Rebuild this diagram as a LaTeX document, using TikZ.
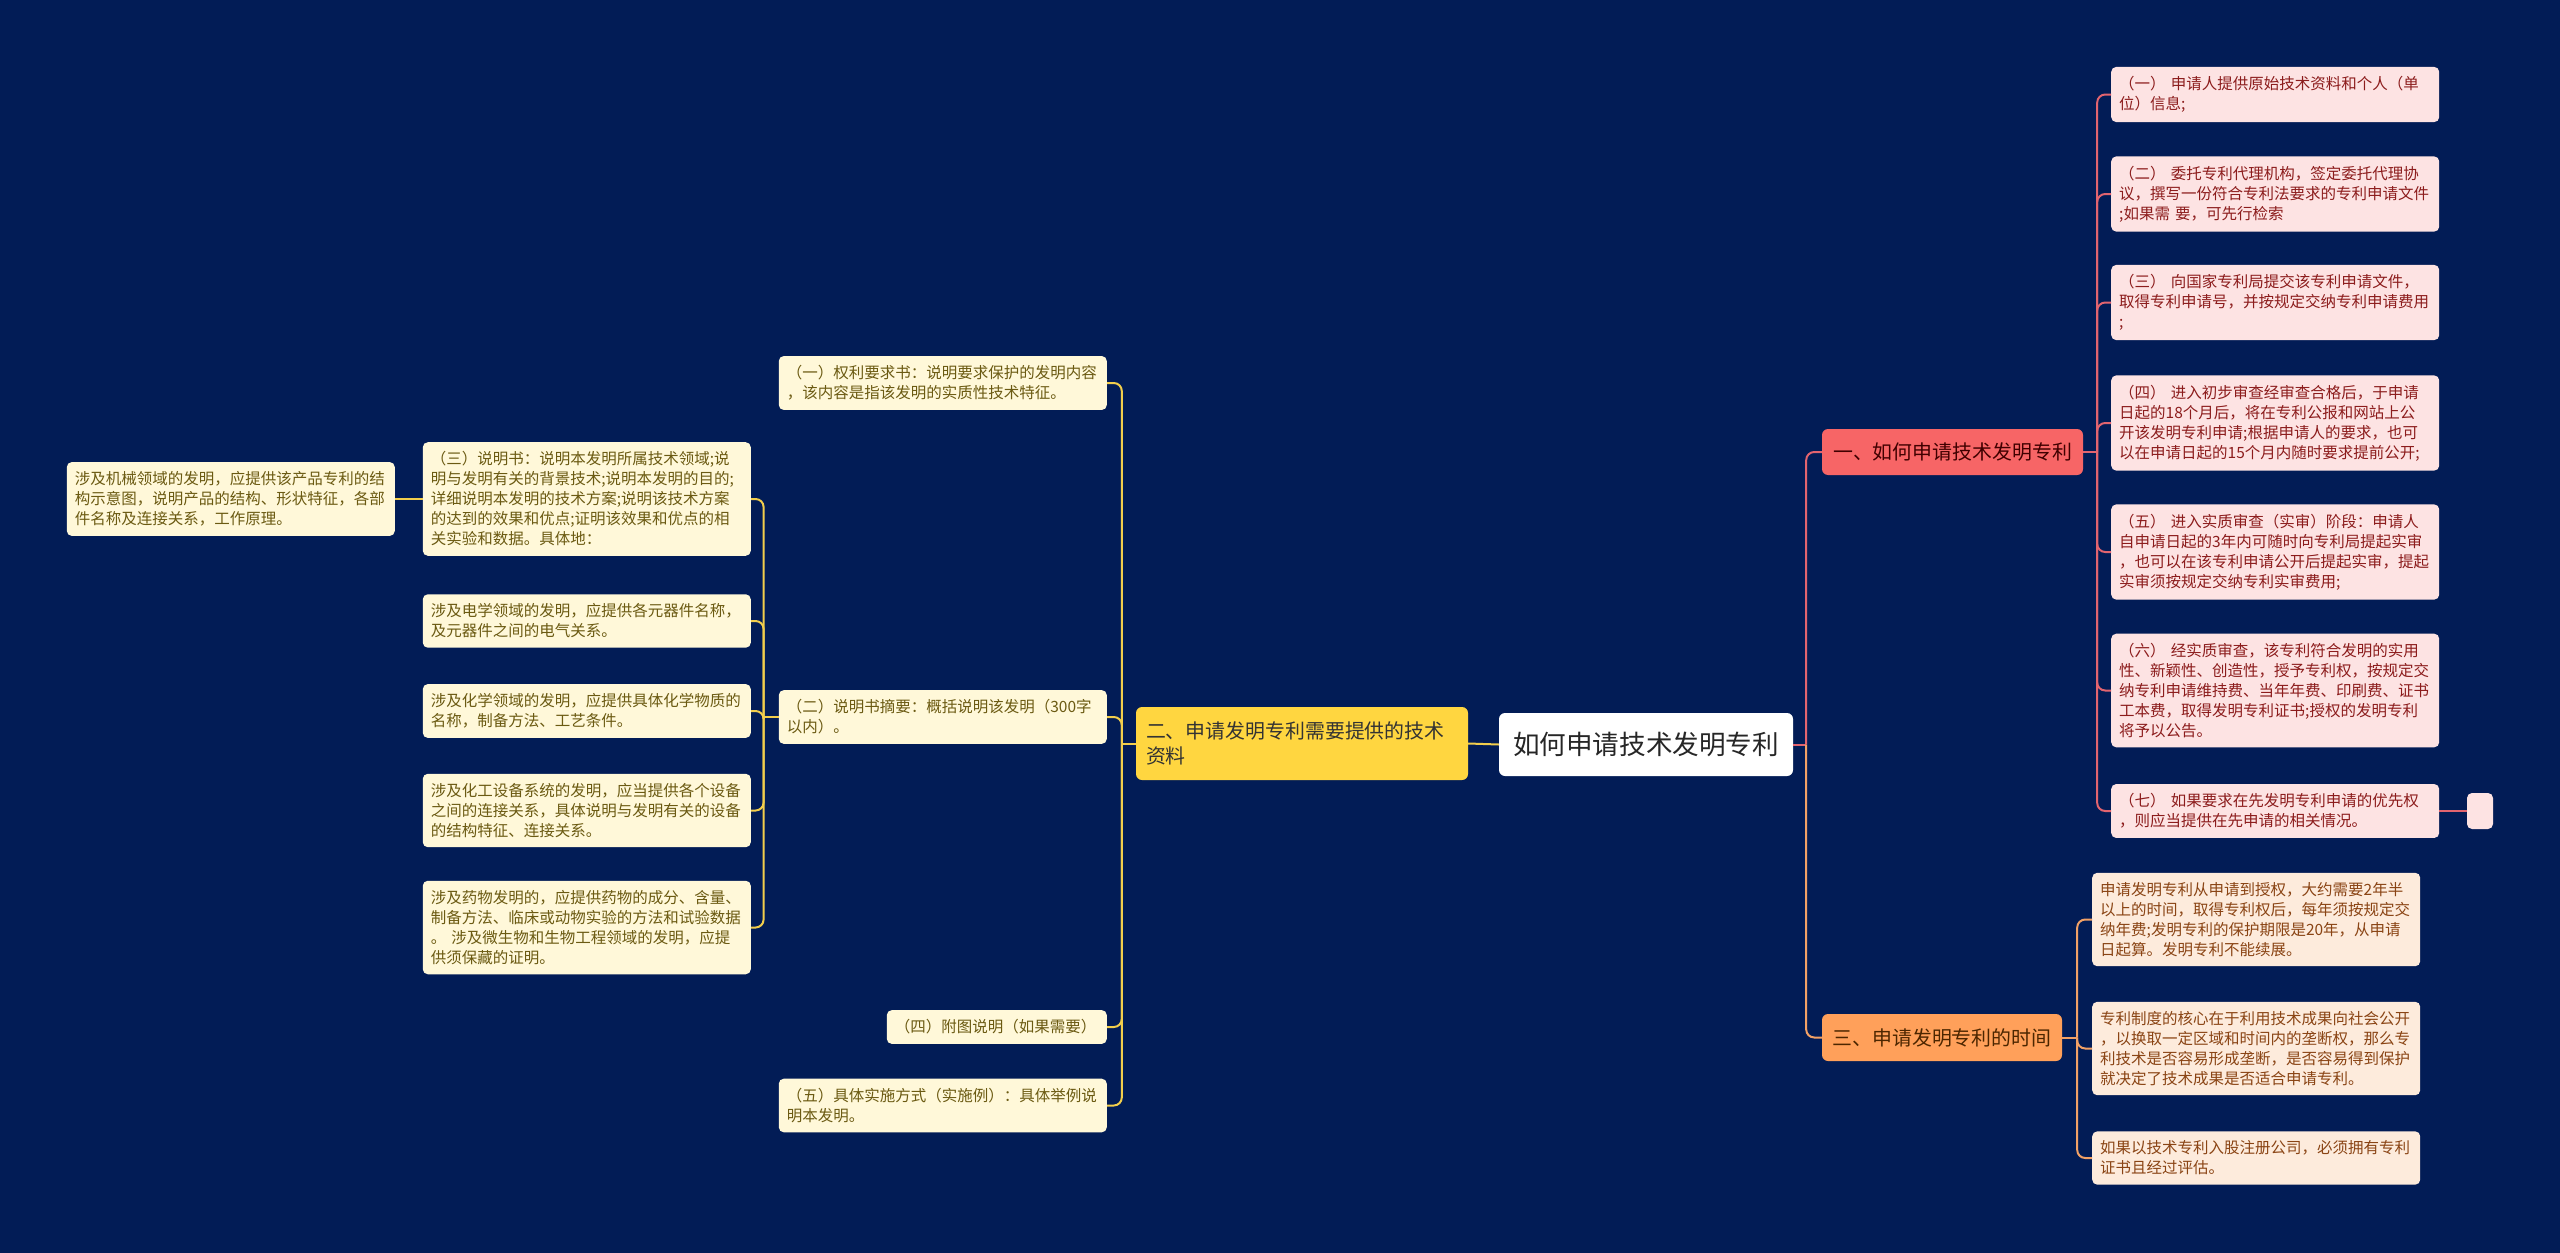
\documentclass[tikz,border=0pt]{standalone}
\usepackage{fontspec}
\setmainfont{Noto Sans CJK SC}
\usepackage{xcolor}
\usetikzlibrary{positioning, calc}

\definecolor{bgnavy}{HTML}{021C56}
\definecolor{creamfill}{HTML}{FFF8D9}
\definecolor{creamink}{HTML}{6B5A12}
\definecolor{yellowfill}{HTML}{FFD640}
\definecolor{yellowline}{HTML}{F2CE4C}
\definecolor{pinkfill}{HTML}{FDE3E3}
\definecolor{pinkink}{HTML}{8C1C1C}
\definecolor{redfill}{HTML}{F76566}
\definecolor{redline}{HTML}{E2646F}
\definecolor{peachfill}{HTML}{FDEBDC}
\definecolor{peachink}{HTML}{8A4414}
\definecolor{orangefill}{HTML}{FFA05A}
\definecolor{orangeline}{HTML}{F2A166}

\newcommand\leaffont{\fontsize{15.5pt}{20pt}\selectfont}
\newcommand\branchfont{\fontsize{19.9pt}{25pt}\selectfont}

\tikzset{
  rootbox/.style={fill=white, text=black!85, rounded corners=6pt,
    font=\fontsize{26.6pt}{32pt}\selectfont, minimum width=294pt, minimum height=63pt},
  branchbox/.style={rounded corners=6pt, font=\branchfont, inner sep=0pt},
  leafbox/.style={rounded corners=5pt, inner xsep=8pt, inner ysep=9.5pt,
    text width=312pt, align=left, font=\leaffont},
  leafY/.style={leafbox, fill=creamfill, text=creamink},
  leafR/.style={leafbox, fill=pinkfill, text=pinkink},
  leafO/.style={leafbox, fill=peachfill, text=peachink},
  linkY/.style={draw=yellowline, line width=2pt, rounded corners=8pt},
  linkR/.style={draw=redline, line width=2pt, rounded corners=8pt},
  linkO/.style={draw=orangeline, line width=2pt, rounded corners=8pt},
}

\begin{document}
\begin{tikzpicture}[x=1pt, y=-1pt]
    % 1. Nền
    \fill[bgnavy] (0,0) rectangle (2560,1253);

    % 2. Gốc và các nhánh chính
    \node[rootbox] (root) at (1646,744.5) {如何申请技术发明专利};
    \node[branchbox, fill=yellowfill, text=black!80, minimum width=332pt, minimum height=73pt,
          text width=312pt, align=left] (n2) at (1302,743.5)
        {二、申请发明专利需要提供的技术\\资料};
    \node[branchbox, fill=redfill, text=black!75!red, minimum width=261pt, minimum height=46pt]
        (n1) at (1952.5,452) {一、如何申请技术发明专利};
    \node[branchbox, fill=orangefill, text=black!70!orange, minimum width=240pt, minimum height=47pt]
        (n3) at (1942,1037.5) {三、申请发明专利的时间};

    % 3. Nhánh trái
    \node[leafY, anchor=east] (a1) at (1107,383)
        {（一）权利要求书：说明要求保护的发明内容\\，该内容是指该发明的实质性技术特征。};
    \node[leafY, anchor=east] (a2) at (1107,717)
        {（二）说明书摘要：概括说明该发明（300字\\以内）。};
    \node[leafY, anchor=east, text width=204pt] (a4) at (1107,1027)
        {（四）附图说明（如果需要）};
    \node[leafY, anchor=east] (a5) at (1107,1105.5)
        {（五）具体实施方式（实施例）：具体举例说\\明本发明。};

    \node[leafY, anchor=east] (b3) at (751,499)
        {（三）说明书：说明本发明所属技术领域;说\\明与发明有关的背景技术;说明本发明的目的;\\详细说明本发明的技术方案;说明该技术方案\\的达到的效果和优点;证明该效果和优点的相\\关实验和数据。具体地：};
    \node[leafY, anchor=east] (b4) at (751,621)
        {涉及电学领域的发明，应提供各元器件名称，\\及元器件之间的电气关系。};
    \node[leafY, anchor=east] (b5) at (751,711)
        {涉及化学领域的发明，应提供具体化学物质的\\名称，制备方法、工艺条件。};
    \node[leafY, anchor=east] (b6) at (751,810.5)
        {涉及化工设备系统的发明，应当提供各个设备\\之间的连接关系，具体说明与发明有关的设备\\的结构特征、连接关系。};
    \node[leafY, anchor=east] (b7) at (751,927.5)
        {涉及药物发明的，应提供药物的成分、含量、\\制备方法、临床或动物实验的方法和试验数据\\。 涉及微生物和生物工程领域的发明，应提\\供须保藏的证明。};
    \node[leafY, anchor=east] (m1) at (395,499)
        {涉及机械领域的发明，应提供该产品专利的结\\构示意图，说明产品的结构、形状特征，各部\\件名称及连接关系，工作原理。};

    % 4. Nhánh phải
    \node[leafR, anchor=west] (r1) at (2111,94.5)
        {（一） 申请人提供原始技术资料和个人（单\\位）信息;};
    \node[leafR, anchor=west] (r2) at (2111,194)
        {（二） 委托专利代理机构，签定委托代理协\\议，撰写一份符合专利法要求的专利申请文件\\;如果需 要，可先行检索};
    \node[leafR, anchor=west] (r3) at (2111,302.5)
        {（三） 向国家专利局提交该专利申请文件，\\取得专利申请号，并按规定交纳专利申请费用\\;};
    \node[leafR, anchor=west] (r4) at (2111,423)
        {（四） 进入初步审查经审查合格后，于申请\\日起的18个月后，将在专利公报和网站上公\\开该发明专利申请;根据申请人的要求，也可\\以在申请日起的15个月内随时要求提前公开;};
    \node[leafR, anchor=west] (r5) at (2111,552)
        {（五） 进入实质审查（实审）阶段：申请人\\自申请日起的3年内可随时向专利局提起实审\\，也可以在该专利申请公开后提起实审，提起\\实审须按规定交纳专利实审费用;};
    \node[leafR, anchor=west] (r6) at (2111,690.5)
        {（六） 经实质审查，该专利符合发明的实用\\性、新颖性、创造性，授予专利权，按规定交\\纳专利申请维持费、当年年费、印刷费、证书\\工本费，取得发明专利证书;授权的发明专利\\将予以公告。};
    \node[leafR, anchor=west] (r7) at (2111,811)
        {（七） 如果要求在先发明专利申请的优先权\\，则应当提供在先申请的相关情况。};
    \node[fill=pinkfill, rounded corners=5pt, minimum width=26pt, minimum height=36pt,
          inner sep=0pt] (r8) at (2480,811) {};

    \node[leafO, anchor=west] (s1) at (2092,919.5)
        {申请发明专利从申请到授权，大约需要2年半\\以上的时间，取得专利权后，每年须按规定交\\纳年费;发明专利的保护期限是20年，从申请\\日起算。发明专利不能续展。};
    \node[leafO, anchor=west] (s2) at (2092,1048.5)
        {专利制度的核心在于利用技术成果向社会公开\\，以换取一定区域和时间内的垄断权，那么专\\利技术是否容易形成垄断，是否容易得到保护\\就决定了技术成果是否适合申请专利。};
    \node[leafO, anchor=west] (s3) at (2092,1158)
        {如果以技术专利入股注册公司，必须拥有专利\\证书且经过评估。};

    % 5. Đường nối
    \coordinate (tR) at ([xshift=13pt]root.east);
    \draw[linkR] (root.east) -- (tR);
    \draw[linkR] (tR) |- (n1.west);
    \draw[linkO] (tR) |- (n3.west);
    \draw[linkY] (root.west) -- (n2.east);

    \coordinate (t2) at ([xshift=-14pt]n2.west);
    \draw[linkY] (n2.west) -- (t2);
    \foreach \c in {a1,a2,a4,a5}
        \draw[linkY] (t2) |- (\c.east);

    \coordinate (t22) at ([xshift=-15pt]a2.west);
    \draw[linkY] (a2.west) -- (t22);
    \foreach \c in {b3,b4,b5,b6,b7}
        \draw[linkY] (t22) |- (\c.east);

    \draw[linkY] (b3.west) -- (m1.east);

    \coordinate (t1) at ([xshift=14pt]n1.east);
    \draw[linkR] (n1.east) -- (t1);
    \foreach \c in {r1,r2,r3,r4,r5,r6,r7}
        \draw[linkR] (t1) |- (\c.west);
    \draw[linkR] (r7.east) -- (r8.west);

    \coordinate (t3r) at ([xshift=15pt]n3.east);
    \draw[linkO] (n3.east) -- (t3r);
    \foreach \c in {s1,s2,s3}
        \draw[linkO] (t3r) |- (\c.west);
\end{tikzpicture}
\end{document}
